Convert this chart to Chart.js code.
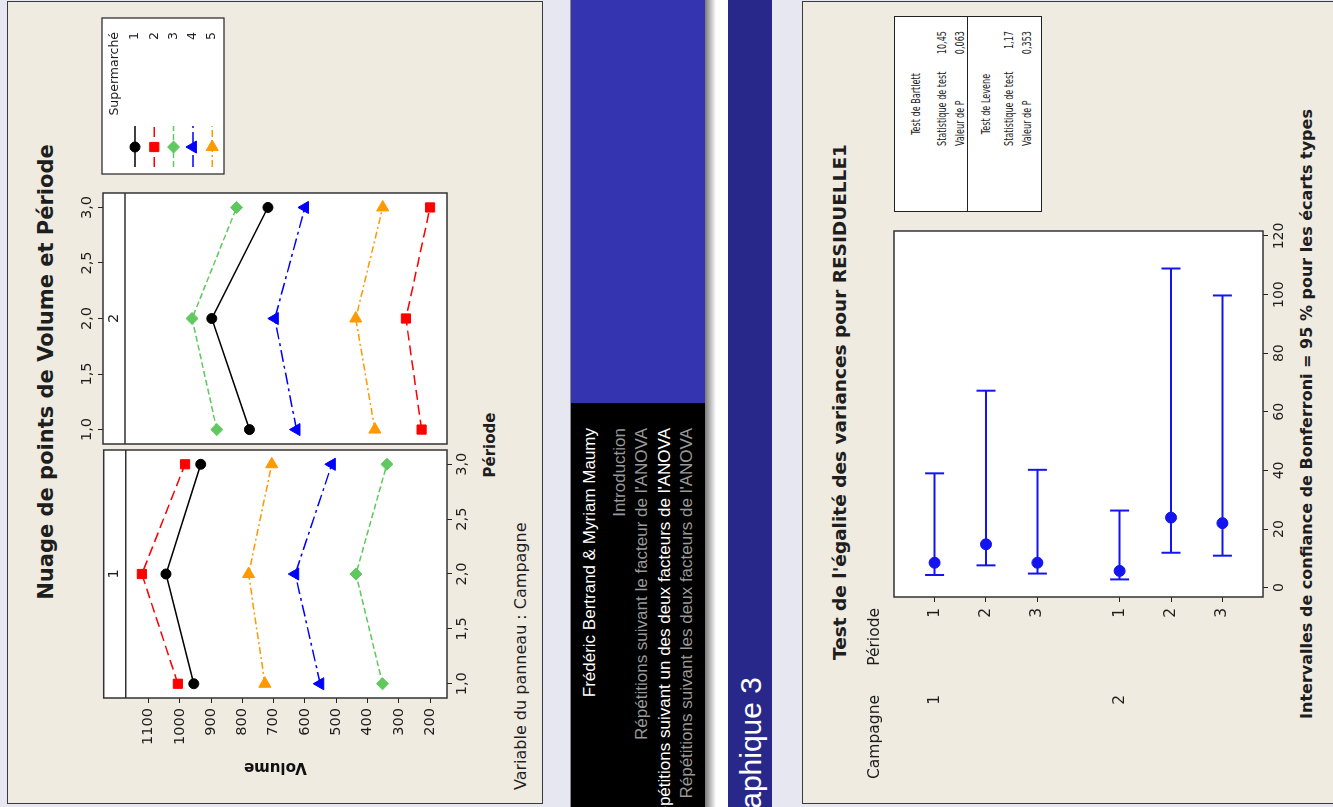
<!DOCTYPE html>
<html lang="fr">
<head>
<meta charset="utf-8">
<title>Nuage de points / Test de l'égalité des variances</title>
<script src="https://cdn.jsdelivr.net/npm/chart.js@4.4.1/dist/chart.umd.min.js"></script>
<style>
html,body{margin:0;padding:0;width:1333px;height:807px;overflow:hidden;background:#e7e7f1;}
/* the whole slide strip is laid out upright (807 x 1333) then turned a quarter left */
#page{position:absolute;left:0;top:0;width:807px;height:1333px;transform-origin:0 0;
  transform:translate(0,807px) rotate(-90deg);overflow:hidden;background:#e7e7f1;
  font-family:'DejaVu Sans',sans-serif;color:#1e1e1e;}
.blk{position:absolute;}
.panel{position:absolute;background:#efebe1;border:1.5px solid #3a3a3a;box-sizing:border-box;}
canvas{position:absolute;}
.t{position:absolute;white-space:nowrap;}
.nav{position:absolute;right:428px;font-family:'Liberation Sans',Arial,sans-serif;font-size:17px;line-height:20px;white-space:nowrap;}
#stats{position:absolute;left:595px;top:894px;width:196px;height:148px;background:#fff;border:1px solid #222;box-sizing:border-box;
  font-family:'DejaVu Sans Condensed','DejaVu Sans',sans-serif;font-size:9px;line-height:12px;}
#stats .r{position:absolute;white-space:nowrap;transform:scaleY(1.45);transform-origin:50% 50%;}
</style>
</head>
<body>
<div id="page">
  <div class="panel" style="left:3px;top:7px;width:803px;height:536px"></div>

  <div class="blk" style="left:0;top:570px;width:404px;height:135px;background:#000;border-top:1px solid #8a8a8a;box-sizing:border-box"></div>
  <div class="blk" style="left:404px;top:570px;width:403px;height:135px;background:#3434b0;border-top:1px solid #8a8a8a;box-sizing:border-box"></div>
  <div class="blk" style="left:0;top:705px;width:807px;height:11px;background:linear-gradient(#7a7a7a,#ffffff)"></div>
  <div class="blk" style="left:0;top:716px;width:807px;height:12px;background:#fff"></div>
  <div class="blk" style="left:0;top:728px;width:807px;height:44px;background:#28288a"></div>

  <div class="nav" style="top:580px;color:#fff">Frédéric Bertrand &amp; Myriam Maumy</div>
  <div class="nav" style="top:610px;color:#9a9a9a">Introduction</div>
  <div class="nav" style="top:632px;color:#9a9a9a">Répétitions suivant le facteur de l'ANOVA</div>
  <div class="nav" style="top:655px;color:#fff">Répétitions suivant un des deux facteurs de l'ANOVA</div>
  <div class="nav" style="top:677px;color:#9a9a9a">Répétitions suivant les deux facteurs de l'ANOVA</div>
  <div class="t" style="right:677px;top:734px;font-family:'Liberation Sans',Arial,sans-serif;font-size:30px;line-height:34px;color:#fff">Graphique 3</div>

  <div class="panel" style="left:3px;top:802px;width:803px;height:560px"></div>

  <div class="t" style="left:135px;top:34px;width:600px;text-align:center;font-weight:bold;font-size:21px;line-height:24px">Nuage de points de Volume et Période</div>
  <div class="t" style="left:262px;top:481px;width:200px;text-align:center;font-weight:bold;font-size:15px;line-height:18px">Période</div>
  <div class="t" style="left:17px;top:511px;font-size:16px;line-height:19px">Variable du panneau : Campagne</div>

  <canvas id="campagne1" width="350" height="410" style="left:15px;top:90px"></canvas>
  <canvas id="campagne2" width="450" height="400" style="left:355px;top:55px"></canvas>

  <div class="t" style="left:105px;top:829px;width:600px;text-align:center;font-weight:bold;font-size:18.5px;line-height:22px">Test de l'égalité des variances pour RESIDUELLE1</div>
  <div class="t" style="left:43px;top:1297px;width:700px;text-align:center;font-weight:bold;font-size:16px;line-height:19px">Intervalles de confiance de Bonferroni = 95 % pour les écarts types</div>

  <div id="stats">
    <div class="r" style="left:0;top:15px;width:214px;text-align:center">Test de Bartlett</div>
    <div class="r" style="left:65px;top:41px">Statistique de test</div>
    <div class="r" style="right:14px;top:41px" id="bartStat"></div>
    <div class="r" style="left:65px;top:59px">Valeur de P</div>
    <div class="r" style="right:14px;top:59px" id="bartP"></div>
    <div style="position:absolute;left:0;top:72px;width:194px;height:1.3px;background:#222"></div>
    <div class="r" style="left:0;top:85px;width:214px;text-align:center">Test de Levene</div>
    <div class="r" style="left:65px;top:108px">Statistique de test</div>
    <div class="r" style="right:14px;top:108px" id="levStat"></div>
    <div class="r" style="left:65px;top:126px">Valeur de P</div>
    <div class="r" style="right:14px;top:126px" id="levP"></div>
  </div>

  <canvas id="variances" width="575" height="460" style="left:20px;top:860px"></canvas>
</div>

<script>
// ---- Nuage de points de Volume et Période ----
const PERIODES = [1, 2, 3];
const PERIODE_TICKS = [1, 1.5, 2, 2.5, 3];
const VOLUME_TICKS = [200, 300, 400, 500, 600, 700, 800, 900, 1000, 1100];
const SUPERMARCHES = ['1', '2', '3', '4', '5'];
const VOL_CAMPAGNE1 = [
  [955, 1044, 933],
  [1006, 1121, 983],
  [352, 437, 338],
  [551, 631, 514],
  [728, 780, 706]
];
const VOL_CAMPAGNE2 = [
  [776, 896, 717],
  [227, 277, 200],
  [880, 959, 817],
  [626, 695, 599],
  [376, 437, 351]
];

// ---- Test de l'égalité des variances pour RESIDUELLE1 ----
const CAMPAGNES = ['1', '1', '1', '2', '2', '2'];
const PERIODES_IC = ['1', '2', '3', '1', '2', '3'];
const ECART_TYPE = [8.5, 14.8, 8.5, 5.7, 23.9, 22.0];
const IC_BAS = [4.3, 7.6, 4.8, 2.8, 11.9, 10.9];
const IC_HAUT = [39.0, 67.2, 40.2, 26.3, 108.9, 99.7];
const IC_TICKS = [0, 20, 40, 60, 80, 100, 120];
const BARTLETT = ['10,45', '0,063'];
const LEVENE = ['1,17', '0,353'];

document.getElementById('bartStat').textContent = BARTLETT[0];
document.getElementById('bartP').textContent = BARTLETT[1];
document.getElementById('levStat').textContent = LEVENE[0];
document.getElementById('levP').textContent = LEVENE[1];

const FONT = "'DejaVu Sans', sans-serif";
const INK = '#1e1e1e';
const BLUE = '#1414f0';
const SERIES_STYLE = [
  {color:'#000000', dash:[],          point:'circle',   rot:0,  r:5},
  {color:'#ff0000', dash:[10,5],      point:'rect',     rot:0,  r:6.5},
  {color:'#5fc95f', dash:[6,3],       point:'rectRot',  rot:0,  r:6},
  {color:'#0000ff', dash:[12,4,3,4],  point:'triangle', rot:0,  r:7},
  {color:'#ff9900', dash:[7,3,2,3],   point:'triangle', rot:90, r:7}
];

// white plot area, frame, and the Minitab panel strip
const panelFrame = {
  id:'panelFrame',
  beforeDraw(chart){
    const {ctx, chartArea:a} = chart;
    ctx.save(); ctx.fillStyle='#fff';
    ctx.fillRect(a.left, a.top, a.right-a.left, a.bottom-a.top);
    ctx.restore();
  },
  afterDatasetsDraw(chart, args, o){
    const {ctx, chartArea:a} = chart;
    ctx.save();
    ctx.strokeStyle='#333'; ctx.lineWidth=1.5;
    ctx.strokeRect(a.left, a.top, a.right-a.left, a.bottom-a.top);
    if(o.label){
      ctx.beginPath(); ctx.moveTo(a.left, a.top+o.strip); ctx.lineTo(a.right, a.top+o.strip); ctx.stroke();
      ctx.fillStyle=INK; ctx.font='14.5px '+FONT; ctx.textAlign='center'; ctx.textBaseline='middle';
      ctx.fillText(o.label, (a.left+a.right)/2, a.top+o.strip/2);
    }
    ctx.restore();
  }
};

// Supermarché legend box, drawn from the datasets themselves
const supermarcheLegend = {
  id:'supermarcheLegend',
  afterDraw(chart, args, o){
    const ctx = chart.ctx;
    ctx.save();
    ctx.fillStyle='#fff'; ctx.fillRect(o.x, o.y, o.w, o.h);
    ctx.strokeStyle='#222'; ctx.lineWidth=1.2; ctx.strokeRect(o.x, o.y, o.w, o.h);
    ctx.fillStyle=INK; ctx.font='12.5px '+FONT; ctx.textAlign='right'; ctx.textBaseline='middle';
    ctx.fillText(o.title, o.x+o.w-14, o.y+13);
    chart.data.datasets.forEach((ds, i)=>{
      const y = o.y + 33 + i*19.3;
      ctx.save();
      ctx.strokeStyle=ds.borderColor; ctx.lineWidth=1.5; ctx.setLineDash(ds.borderDash);
      ctx.beginPath(); ctx.moveTo(o.x+7, y); ctx.lineTo(o.x+48, y); ctx.stroke();
      ctx.setLineDash([]);
      ctx.fillStyle=ds.pointBackgroundColor; ctx.strokeStyle=ds.pointBorderColor; ctx.lineWidth=1;
      Chart.helpers.drawPoint(ctx, {pointStyle:ds.pointStyle, rotation:ds.pointRotation, radius:ds.pointRadius, borderWidth:1}, o.x+27, y);
      ctx.restore();
      ctx.fillText(ds.label, o.x+o.w-14, y);
    });
    ctx.restore();
  }
};

function volDatasets(values){
  return values.map((serie, i)=>{
    const st = SERIES_STYLE[i];
    return {
      label: SUPERMARCHES[i],
      data: serie.map((v, j)=>({x:PERIODES[j], y:v})),
      showLine:true,
      borderColor:st.color, backgroundColor:st.color, borderWidth:1.5, borderDash:st.dash,
      pointStyle:st.point, pointRotation:st.rot, pointRadius:st.r,
      pointBackgroundColor:st.color, pointBorderColor:st.color, pointBorderWidth:1
    };
  });
}

function volScale(display){
  return {
    type:'linear', display, min:146, max:1243,
    afterBuildTicks: s=>{ s.ticks = VOLUME_TICKS.map(v=>({value:v})); },
    afterFit: s=>{ if(display) s.width = 94; },
    grid:{drawOnChartArea:false, tickLength:5, color:'#222'},
    border:{display:false},
    ticks:{color:INK, font:{family:FONT, size:14.5}, padding:5, autoSkip:false, callback:v=>String(v)},
    title:{display:true, text:'Volume', color:'#111', font:{family:FONT, size:15, weight:'bold'}, padding:{top:16, bottom:0}}
  };
}

function periodeScale(position, h){
  return {
    type:'linear', position, min:0.87, max:3.13,
    afterBuildTicks: s=>{ s.ticks = PERIODE_TICKS.map(v=>({value:v})); },
    afterFit: s=>{ s.height = h; },
    grid:{drawOnChartArea:false, tickLength:5, color:'#222'},
    border:{display:false},
    ticks:{color:INK, font:{family:FONT, size:14.5}, padding:2, maxRotation:0, autoSkip:false,
      callback: v=>v.toFixed(1).replace('.', ',')}
  };
}

const quiet = {legend:{display:false}, tooltip:{enabled:false}};

new Chart(document.getElementById('campagne1'), {
  type:'scatter',
  data:{datasets: volDatasets(VOL_CAMPAGNE1)},
  plugins:[panelFrame],
  options:{responsive:false, animation:false, events:[],
    layout:{padding:{left:0, top:13, right:3, bottom:8}},
    plugins:{...quiet, panelFrame:{label:'1', strip:22}},
    scales:{x:periodeScale('bottom', 45), y:volScale(true)}}
});

new Chart(document.getElementById('campagne2'), {
  type:'scatter',
  data:{datasets: volDatasets(VOL_CAMPAGNE2)},
  plugins:[panelFrame, supermarcheLegend],
  options:{responsive:false, animation:false, events:[],
    layout:{padding:{left:7, top:0, right:191, bottom:8}},
    plugins:{...quiet, panelFrame:{label:'2', strip:22},
      supermarcheLegend:{x:278, y:47, w:156, h:122, title:'Supermarché'}},
    scales:{x:periodeScale('top', 48), y:volScale(false)}}
});

// rows: second campagne group sits a little further down
const rowY = i => i + 1 + (CAMPAGNES[i] === CAMPAGNES[0] ? 0 : 0.6);

const groupLabels = {
  id:'groupLabels',
  afterDraw(chart, args, o){
    const {ctx, scales:{y}} = chart;
    ctx.save();
    ctx.fillStyle=INK; ctx.font='15.5px '+FONT; ctx.textAlign='right'; ctx.textBaseline='middle';
    const hy = chart.chartArea.top - 19;
    ctx.fillText('Période', y.right - 11, hy);
    ctx.fillText('Campagne', o.campX, hy);
    CAMPAGNES.forEach((c, i)=>{
      if(i === 0 || CAMPAGNES[i-1] !== c) ctx.fillText(c, o.campX, y.getPixelForValue(rowY(i)));
    });
    ctx.restore();
  }
};

const icDatasets = ECART_TYPE.map((_, i)=>({
  label:'IC '+CAMPAGNES[i]+'-'+PERIODES_IC[i],
  data:[{x:IC_BAS[i], y:rowY(i)}, {x:IC_HAUT[i], y:rowY(i)}],
  showLine:true, borderColor:BLUE, borderWidth:2,
  pointStyle:'line', pointRotation:90, pointRadius:9.5,
  pointBorderColor:BLUE, pointBackgroundColor:BLUE, pointBorderWidth:2
}));
icDatasets.push({
  label:'Écart type',
  data: ECART_TYPE.map((v, i)=>({x:v, y:rowY(i)})),
  showLine:false, pointStyle:'circle', pointRadius:5.5,
  pointBackgroundColor:BLUE, pointBorderColor:BLUE, pointBorderWidth:1
});

new Chart(document.getElementById('variances'), {
  type:'scatter',
  data:{datasets: icDatasets},
  plugins:[panelFrame, groupLabels],
  options:{responsive:false, animation:false, events:[],
    layout:{padding:{left:0, top:34, right:19, bottom:0}},
    plugins:{...quiet, panelFrame:{}, groupLabels:{campX:92}},
    scales:{
      x:{type:'linear', position:'bottom', min:-3.2, max:121.7,
        afterBuildTicks: s=>{ s.ticks = IC_TICKS.map(v=>({value:v})); },
        afterFit: s=>{ s.height = 57; },
        grid:{drawOnChartArea:false, tickLength:5, color:'#222'},
        border:{display:false},
        ticks:{color:INK, font:{family:FONT, size:14}, padding:3, maxRotation:0, autoSkip:false}},
      y:{type:'linear', reverse:true, min:0.21, max:7.39,
        afterBuildTicks: s=>{ s.ticks = PERIODES_IC.map((p, i)=>({value:rowY(i)})); },
        afterFit: s=>{ s.width = 190; },
        grid:{drawOnChartArea:false, tickLength:5, color:'#222'},
        border:{display:false},
        ticks:{color:INK, font:{family:FONT, size:15.5}, padding:6, autoSkip:false,
          callback:(v, idx)=>PERIODES_IC[idx]}}
    }}
});
</script>
</body>
</html>
